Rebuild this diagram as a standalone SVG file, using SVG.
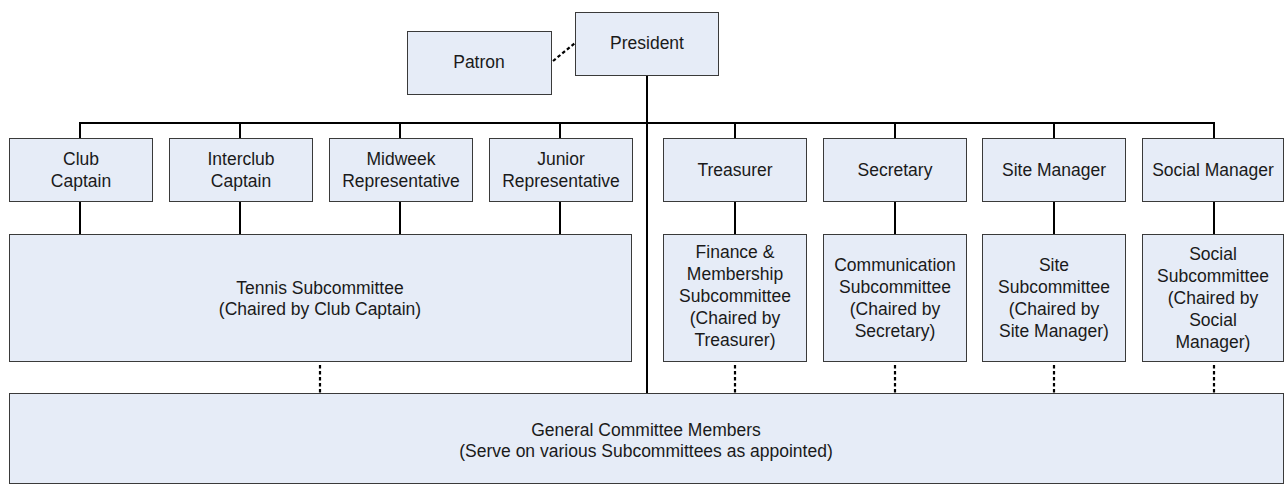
<svg xmlns="http://www.w3.org/2000/svg" width="1284" height="485" viewBox="0 0 1284 485">
<style>
.box{fill:#e6ecf7;stroke:#3a3a3a;stroke-width:1}
.t{font-family:"Liberation Sans",Arial,sans-serif;font-size:17.5px;fill:#1a1a1a;text-anchor:middle;dominant-baseline:central}
.c{stroke:#000;stroke-width:2;fill:none}
.d{stroke:#000;stroke-width:2.2;fill:none;stroke-dasharray:3.5 2.5}
</style>
<rect width="1284" height="485" fill="#fff"/>
<g id="connectors">
<line class="d" x1="553" y1="61" x2="575" y2="43"/>
<line class="c" x1="647" y1="75" x2="647" y2="393"/>
<line class="c" x1="80" y1="123" x2="1214" y2="123"/>
<line class="c" x1="80" y1="122" x2="80" y2="138"/>
<line class="c" x1="240" y1="122" x2="240" y2="138"/>
<line class="c" x1="400" y1="122" x2="400" y2="138"/>
<line class="c" x1="560" y1="122" x2="560" y2="138"/>
<line class="c" x1="735" y1="122" x2="735" y2="138"/>
<line class="c" x1="895" y1="122" x2="895" y2="138"/>
<line class="c" x1="1054" y1="122" x2="1054" y2="138"/>
<line class="c" x1="1214" y1="122" x2="1214" y2="138"/>
<line class="c" x1="80" y1="202" x2="80" y2="234"/>
<line class="c" x1="240" y1="202" x2="240" y2="234"/>
<line class="c" x1="400" y1="202" x2="400" y2="234"/>
<line class="c" x1="560" y1="202" x2="560" y2="234"/>
<line class="c" x1="735" y1="202" x2="735" y2="234"/>
<line class="c" x1="895" y1="202" x2="895" y2="234"/>
<line class="c" x1="1054" y1="202" x2="1054" y2="234"/>
<line class="c" x1="1214" y1="202" x2="1214" y2="234"/>
<line class="d" x1="320" y1="365" x2="320" y2="393"/>
<line class="d" x1="735" y1="365" x2="735" y2="393"/>
<line class="d" x1="895" y1="365" x2="895" y2="393"/>
<line class="d" x1="1054" y1="365" x2="1054" y2="393"/>
<line class="d" x1="1214" y1="365" x2="1214" y2="393"/>
</g>
<g id="president"><rect class="box" x="575.5" y="12.5" width="143" height="63"/><text class="t" x="647" y="43">President</text></g>
<g id="patron"><rect class="box" x="407.5" y="31.5" width="144" height="63"/><text class="t" x="479" y="62">Patron</text></g>
<g id="club-captain"><rect class="box" x="9.5" y="138.5" width="143" height="63"/><text class="t" x="81" y="159">Club</text><text class="t" x="81" y="181">Captain</text></g>
<g id="interclub-captain"><rect class="box" x="169.5" y="138.5" width="143" height="63"/><text class="t" x="241" y="159">Interclub</text><text class="t" x="241" y="181">Captain</text></g>
<g id="midweek-rep"><rect class="box" x="329.5" y="138.5" width="143" height="63"/><text class="t" x="401" y="159">Midweek</text><text class="t" x="401" y="181">Representative</text></g>
<g id="junior-rep"><rect class="box" x="489.5" y="138.5" width="143" height="63"/><text class="t" x="561" y="159">Junior</text><text class="t" x="561" y="181">Representative</text></g>
<g id="treasurer"><rect class="box" x="663.5" y="138.5" width="143" height="63"/><text class="t" x="735" y="170">Treasurer</text></g>
<g id="secretary"><rect class="box" x="823.5" y="138.5" width="143" height="63"/><text class="t" x="895" y="170">Secretary</text></g>
<g id="site-manager"><rect class="box" x="982.5" y="138.5" width="143" height="63"/><text class="t" x="1054" y="170">Site Manager</text></g>
<g id="social-manager"><rect class="box" x="1142.5" y="138.5" width="141" height="63"/><text class="t" x="1213" y="170">Social Manager</text></g>
<g id="tennis-sub"><rect class="box" x="9.5" y="234.5" width="622" height="127"/><text class="t" x="320" y="288">Tennis Subcommittee</text><text class="t" x="320" y="309">(Chaired by Club Captain)</text></g>
<g id="finance-sub"><rect class="box" x="663.5" y="234.5" width="143" height="127"/><text class="t" x="735" y="252">Finance &amp;</text><text class="t" x="735" y="274">Membership</text><text class="t" x="735" y="296">Subcommittee</text><text class="t" x="735" y="318">(Chaired by</text><text class="t" x="735" y="340">Treasurer)</text></g>
<g id="communication-sub"><rect class="box" x="823.5" y="234.5" width="143" height="127"/><text class="t" x="895" y="265">Communication</text><text class="t" x="895" y="287">Subcommittee</text><text class="t" x="895" y="309">(Chaired by</text><text class="t" x="895" y="331">Secretary)</text></g>
<g id="site-sub"><rect class="box" x="982.5" y="234.5" width="143" height="127"/><text class="t" x="1054" y="265">Site</text><text class="t" x="1054" y="287">Subcommittee</text><text class="t" x="1054" y="309">(Chaired by</text><text class="t" x="1054" y="331">Site Manager)</text></g>
<g id="social-sub"><rect class="box" x="1142.5" y="234.5" width="141" height="127"/><text class="t" x="1213" y="254">Social</text><text class="t" x="1213" y="276">Subcommittee</text><text class="t" x="1213" y="298">(Chaired by</text><text class="t" x="1213" y="320">Social</text><text class="t" x="1213" y="342">Manager)</text></g>
<g id="general-committee"><rect class="box" x="9.5" y="393.5" width="1274" height="90"/><text class="t" x="646" y="430">General Committee Members</text><text class="t" x="646" y="451">(Serve on various Subcommittees as appointed)</text></g>
</svg>
